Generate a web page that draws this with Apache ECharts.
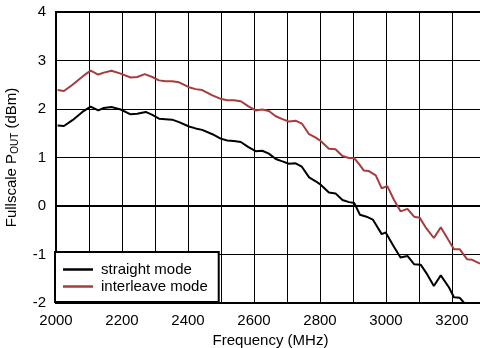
<!DOCTYPE html>
<html>
<head>
<meta charset="utf-8">
<script src="https://cdn.jsdelivr.net/npm/echarts@6/dist/echarts.min.js"></script>
<style>html,body{margin:0;padding:0;background:#fff}#c{width:480px;height:348px}</style>
</head>
<body>
<div id="c"></div>
<script>
var straightFreq = [2005, 2024, 2050, 2080, 2105, 2128, 2145, 2168, 2196, 2226, 2246, 2272, 2292, 2312, 2332, 2352, 2373, 2403, 2423, 2443, 2474, 2499, 2519, 2539, 2560, 2582, 2605, 2625, 2645, 2666, 2686, 2706, 2726, 2745, 2767, 2787, 2802, 2827, 2847, 2868, 2888, 2904, 2921, 2941, 2960, 2987, 2999, 3024, 3044, 3065, 3085, 3105, 3125, 3145, 3166, 3191, 3206, 3223, 3237];
var straightVal = [1.66, 1.65, 1.77, 1.94, 2.05, 1.97, 2.02, 2.04, 1.99, 1.89, 1.90, 1.94, 1.88, 1.80, 1.79, 1.78, 1.73, 1.64, 1.60, 1.57, 1.48, 1.39, 1.35, 1.34, 1.32, 1.22, 1.13, 1.14, 1.08, 0.97, 0.92, 0.87, 0.88, 0.81, 0.59, 0.51, 0.44, 0.28, 0.26, 0.125, 0.08, 0.06, -0.18, -0.22, -0.28, -0.58, -0.545, -0.84, -1.06, -1.03, -1.20, -1.21, -1.41, -1.65, -1.43, -1.68, -1.88, -1.89, -2.0];
var interFreq = [2005, 2024, 2050, 2090, 2105, 2128, 2145, 2168, 2196, 2226, 2246, 2269, 2292, 2312, 2332, 2352, 2373, 2403, 2423, 2443, 2474, 2499, 2519, 2539, 2560, 2582, 2605, 2625, 2645, 2666, 2686, 2706, 2726, 2745, 2767, 2787, 2802, 2827, 2847, 2868, 2888, 2903, 2918, 2933, 2948, 2969, 2987, 3004, 3024, 3044, 3065, 3085, 3102, 3120, 3145, 3166, 3191, 3206, 3223, 3246, 3261, 3285];
var interVal = [2.39, 2.37, 2.50, 2.72, 2.79, 2.71, 2.75, 2.79, 2.73, 2.65, 2.66, 2.72, 2.66, 2.59, 2.57, 2.57, 2.55, 2.45, 2.41, 2.39, 2.28, 2.21, 2.18, 2.18, 2.16, 2.06, 1.97, 1.99, 1.96, 1.85, 1.79, 1.74, 1.76, 1.70, 1.48, 1.41, 1.34, 1.18, 1.17, 1.03, 0.99, 0.99, 0.87, 0.73, 0.72, 0.63, 0.365, 0.41, 0.13, -0.11, -0.06, -0.22, -0.24, -0.44, -0.66, -0.44, -0.72, -0.89, -0.89, -1.10, -1.11, -1.19];
var seriesNames = ['straight mode', 'interleave mode'];

function pairs(f, v) { return f.map(function (x, i) { return [x, v[i]]; }); }

var FONT = '"Liberation Sans", Arial, Helvetica, sans-serif';
var chart = echarts.init(document.getElementById('c'), null, { renderer: 'canvas' });
chart.setOption({
  animation: false,
  backgroundColor: '#fff',
  textStyle: { fontFamily: FONT },
  grid: { left: 56, top: 12, right: -5, bottom: 45, outerBoundsMode: 'none', containLabel: false,
    show: true, borderColor: '#000', borderWidth: 2, backgroundColor: 'transparent' },
  xAxis: {
    type: 'value', min: 2000, max: 3300, interval: 100,
    axisLine: { show: true, lineStyle: { color: '#000', width: 2 } },
    axisTick: { show: false },
    axisLabel: { color: '#000', fontSize: 15, fontFamily: FONT, margin: 10, showMaxLabel: false,
      formatter: function (v) { return v % 200 === 0 ? String(v) : ''; } },
    splitLine: { show: true, lineStyle: { color: '#000', width: 1 } },
    name: 'Frequency (MHz)', nameLocation: 'middle', nameGap: 25,
    nameTextStyle: { color: '#000', fontSize: 15, fontFamily: FONT }
  },
  yAxis: {
    type: 'value', min: -2, max: 4, interval: 1,
    axisLine: { show: true, lineStyle: { color: '#000', width: 2 } },
    axisTick: { show: false },
    axisLabel: { color: '#000', fontSize: 15, fontFamily: FONT, margin: 10 },
    splitLine: { show: true, lineStyle: { color: '#000', width: 1 } },
    name: '{a|Fullscale P}{b|OUT}{a| (dBm)}', nameLocation: 'middle', nameGap: 29,
    nameTextStyle: {
      color: '#000', fontSize: 15, fontFamily: FONT,
      rich: {
        a: { fontSize: 15, fontFamily: FONT, color: '#000', lineHeight: 20, verticalAlign: 'middle' },
        b: { fontSize: 10, fontFamily: FONT, color: '#000', lineHeight: 20, verticalAlign: 'bottom', padding: [0, 0, 2, 0] }
      }
    }
  },
  legend: {
    show: true, orient: 'vertical', left: 55, top: 252,
    data: [{ name: seriesNames[0], icon: 'rect' }, { name: seriesNames[1], icon: 'rect' }],
    backgroundColor: '#fff', borderColor: '#000', borderWidth: 2, borderRadius: 0,
    padding: [10, 11, 8, 8], itemGap: 2, itemWidth: 30, itemHeight: 2.5,
    itemStyle: { borderWidth: 0 },
    textStyle: { color: '#000', fontSize: 15, fontFamily: FONT, padding: [0, 0, 0, 3] },
    z: 10
  },
  series: [
    { name: seriesNames[0], type: 'line', data: pairs(straightFreq, straightVal), symbol: 'none', showSymbol: false,
      lineStyle: { color: '#000', width: 2 }, itemStyle: { color: '#000' }, z: 3 },
    { name: seriesNames[1], type: 'line', data: pairs(interFreq, interVal), symbol: 'none', showSymbol: false,
      lineStyle: { color: '#a83c3c', width: 2 }, itemStyle: { color: '#a83c3c' }, z: 3 }
  ]
});
</script>
</body>
</html>
